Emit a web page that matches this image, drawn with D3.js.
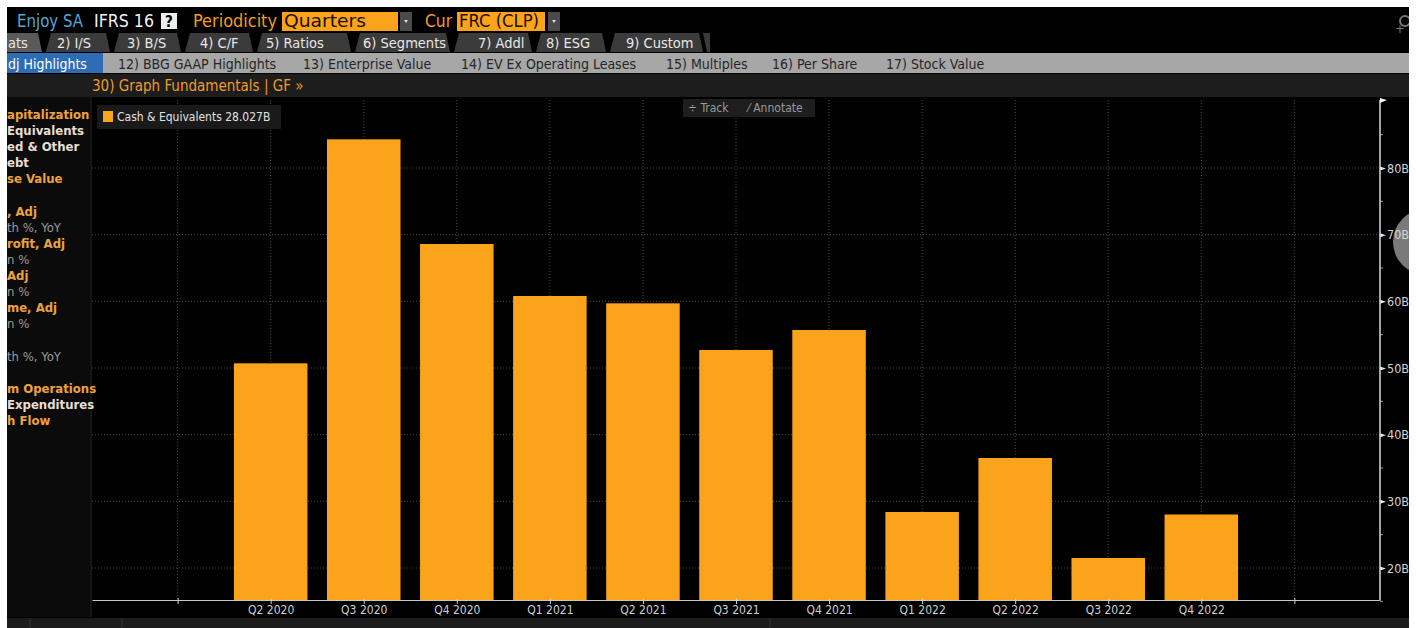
<!DOCTYPE html>
<html>
<head>
<meta charset="utf-8">
<script src="https://cdn.jsdelivr.net/npm/d3@7"></script>
<style>
  body { margin: 0; background: #fff; }
  svg { display: block; font-family: "DejaVu Sans Condensed", "Liberation Sans Narrow", sans-serif; }
</style>
</head>
<body>
<svg id="chart"></svg>
<script>
// data
const quarters = ["Q2 2020", "Q3 2020", "Q4 2020", "Q1 2021", "Q2 2021", "Q3 2021",
    "Q4 2021", "Q1 2022", "Q2 2022", "Q3 2022", "Q4 2022"];
const cashValues = [50.7, 84.3, 68.6, 60.8, 59.7, 52.7, 55.7, 28.4, 36.5, 21.5, 28.027];
const axisQuarters = ["Q1 2020", ...quarters, "Q1 2023"];
const yTicks = [20, 30, 40, 50, 60, 70, 80];
const yMinorTicks = [15, 25, 35, 45, 55, 65, 75, 85];
const seriesName = "Cash & Equivalents";
const lastValueLabel = "28.027B";

const mainTabs = ["ats", "2) I/S", "3) B/S", "4) C/F", "5) Ratios", "6) Segments", "7) Addl", "8) ESG", "9) Custom"];
const subTabs = ["dj Highlights", "12) BBG GAAP Highlights", "13) Enterprise Value", "14) EV Ex Operating Leases",
    "15) Multiples", "16) Per Share", "17) Stock Value"];
const menuItems = [
    ["apitalization", "key"], ["Equivalents", "plain"], ["ed & Other", "plain"], ["ebt", "plain"],
    ["se Value", "key"], ["", "plain"], [", Adj", "key"], ["th %, YoY", "sub"], ["rofit, Adj", "key"],
    ["n %", "sub"], ["Adj", "key"], ["n %", "sub"], ["me, Adj", "key"], ["n %", "sub"], ["", "plain"],
    ["th %, YoY", "sub"], ["", "plain"], ["m Operations", "key"], ["Expenditures", "plain"], ["h Flow", "key"]
];

const size = { width: 1416, height: 628 };
const plot = { left: 92, right: 1380, top: 100, bottom: 600 };
const orange = "#fba31b";
const menuColor = { key: "#eea23c", plain: "#e6dfd2", sub: "#9c9c9c" };

const svg = d3.select("#chart").attr("width", size.width).attr("height", size.height);

// screen frame
svg.append("rect").attr("x", 7).attr("y", 7).attr("width", 1402).attr("height", 613).attr("fill", "#000");

// ---- header bar ----
const header = svg.append("g").attr("font-size", 17);
const headText = (x, w, color, txt) => header.append("text").attr("x", x).attr("y", 27).attr("fill", color)
    .attr("textLength", w).attr("lengthAdjust", "spacingAndGlyphs").text(txt);
headText(17, 66, "#55a6d4", "Enjoy SA");
headText(94, 60, "#f2f2f2", "IFRS 16");
header.append("rect").attr("x", 161).attr("y", 13).attr("width", 16).attr("height", 16).attr("fill", "#eee");
header.append("text").attr("x", 169).attr("y", 27).attr("text-anchor", "middle").attr("fill", "#000")
    .attr("font-weight", "bold").attr("font-size", 15).text("?");
headText(193, 84, "#f39c1e", "Periodicity");
header.append("rect").attr("x", 282).attr("y", 12).attr("width", 116).attr("height", 19).attr("fill", orange);
headText(284, 82, "#1a1000", "Quarters");
headText(425, 27, "#f39c1e", "Cur");
header.append("rect").attr("x", 457).attr("y", 12).attr("width", 88).attr("height", 19).attr("fill", orange);
headText(459, 80, "#1a1000", "FRC (CLP)");
[400, 548].forEach(x => {
    header.append("rect").attr("x", x).attr("y", 12).attr("width", 12).attr("height", 19).attr("fill", "#4a4a4a");
    header.append("path").attr("d", `M${x + 4},${20} L${x + 8},${20} L${x + 6},${23} Z`).attr("fill", "#ddd");
});
// search icon top right
svg.append("circle").attr("cx", 1405).attr("cy", 21).attr("r", 5).attr("fill", "none").attr("stroke", "#777").attr("stroke-width", 2);
svg.append("text").attr("x", 1395).attr("y", 33).attr("fill", "#777").attr("font-size", 13).text("+");

// ---- main tabs ----
const tabEdges = [7, 46, 114, 185, 257, 355, 454, 536, 610, 707];
const tabTextX = [8, 57, 127, 200, 266, 363, 478, 546, 626];
const tabs = svg.append("g").attr("font-size", 14.5);
mainTabs.forEach((t, i) => {
    const x0 = tabEdges[i], x1 = tabEdges[i + 1] - 4;
    tabs.append("path")
        .attr("d", `M${x0},52 L${i === 0 ? x0 : x0 + 5},33 L${x1 - 4},33 L${x1},52 Z`)
        .attr("fill", i === 0 ? "#5a5a5a" : "#3b3b3b");
    tabs.append("text").attr("x", tabTextX[i]).attr("y", 48).attr("fill", "#e8e8e8").text(t);
});
tabs.append("path").attr("d", "M707,52 L703,33 L710,33 L710,52 Z").attr("fill", "#3b3b3b");

// ---- sub tabs ----
svg.append("rect").attr("x", 7).attr("y", 53).attr("width", 1402).attr("height", 20).attr("fill", "#a7a7a7");
svg.append("rect").attr("x", 7).attr("y", 53).attr("width", 96).attr("height", 20).attr("fill", "#2d6db5");
const subX = [8, 118, 303, 461, 666, 772, 886];
svg.append("g").attr("font-size", 14).selectAll("text").data(subTabs).join("text")
    .attr("x", (d, i) => subX[i]).attr("y", 69)
    .attr("fill", (d, i) => i === 0 ? "#fff" : "#262626")
    .text(d => d);

// ---- graph title row ----
svg.append("rect").attr("x", 7).attr("y", 74).attr("width", 1402).attr("height", 23).attr("fill", "#1d1d1d");
svg.append("text").attr("x", 92).attr("y", 91).attr("fill", "#ef9a2a").attr("font-size", 15)
    .text("30) Graph Fundamentals | GF »");

// ---- left menu ----
svg.append("rect").attr("x", 7).attr("y", 97).attr("width", 83).attr("height", 520).attr("fill", "#0b0b0b");
svg.append("line").attr("x1", 91).attr("x2", 91).attr("y1", 97).attr("y2", 617).attr("stroke", "#2a2a2a");
svg.append("g").attr("font-size", 13).selectAll("text").data(menuItems).join("text")
    .attr("x", 7).attr("y", (d, i) => 119 + i * 16.1)
    .attr("fill", d => menuColor[d[1]])
    .attr("font-weight", d => d[1] === "sub" ? "normal" : "bold")
    .text(d => d[0]);

// ---- chart ----
const x = d3.scalePoint().domain(axisQuarters).range([plot.left, plot.right]).padding(0.92);
const y = d3.scaleLinear().domain([15.2, 90.2]).range([plot.bottom, plot.top]);
const barWidth = x.step() * 0.79;

const grid = svg.append("g").attr("stroke", "#4a4a4a").attr("stroke-dasharray", "1,2");
grid.selectAll(".v").data(axisQuarters).join("line")
    .attr("x1", d => x(d)).attr("x2", d => x(d)).attr("y1", plot.top).attr("y2", plot.bottom);
grid.selectAll(".h").data(yTicks).join("line")
    .attr("x1", plot.left).attr("x2", plot.right).attr("y1", d => y(d)).attr("y2", d => y(d));

svg.append("g").selectAll("rect").data(quarters).join("rect")
    .attr("x", d => x(d) - barWidth / 2)
    .attr("width", barWidth)
    .attr("y", (d, i) => y(cashValues[i]))
    .attr("height", (d, i) => plot.bottom - y(cashValues[i]))
    .attr("fill", orange);

// x axis
const xAxis = d3.axisBottom(x).tickSize(4).tickSizeOuter(0)
    .tickFormat(d => quarters.includes(d) ? d : "");
const gx = svg.append("g").attr("transform", `translate(0,${plot.bottom})`).call(xAxis);
gx.select(".domain").attr("stroke", "#c8c8c8");
gx.selectAll(".tick line").attr("stroke", "#d0d0d0").attr("y1", -2).attr("y2", 4);
gx.selectAll(".tick text").attr("fill", "#cfcfcf").attr("font-size", 12).attr("y", 3).attr("dy", "0.9em")
    .attr("font-family", "DejaVu Sans Condensed, sans-serif");

// grey widget on right edge (behind the axis labels)
svg.append("circle").attr("cx", 1426).attr("cy", 242).attr("r", 33).attr("fill", "#7a7a7a");

// right y axis
const yAxis = d3.axisRight(y).tickValues(yTicks).tickSize(0).tickPadding(7).tickFormat(d => d + "B");
const gy = svg.append("g").attr("transform", `translate(${plot.right},0)`).call(yAxis);
gy.select(".domain").remove();
gy.selectAll(".tick text").attr("fill", "#d4d4d4").attr("font-size", 12.5)
    .attr("font-family", "DejaVu Sans Condensed, sans-serif");
gy.selectAll(".tick").append("path").attr("d", "M0,-2 L6,0 L0,2 Z").attr("fill", "#e8e8e8");
svg.append("g").selectAll("line").data(yMinorTicks).join("line")
    .attr("x1", plot.right).attr("x2", plot.right + 3)
    .attr("y1", d => y(d)).attr("y2", d => y(d)).attr("stroke", "#9a9a9a");
svg.append("line").attr("x1", plot.right).attr("x2", plot.right).attr("y1", plot.top).attr("y2", plot.bottom)
    .attr("stroke", "#d8d8d8").attr("stroke-width", 1.5);
svg.append("path").attr("d", `M${plot.right},${plot.top - 2} L${plot.right + 7},${plot.top} L${plot.right},${plot.top + 3} Z`)
    .attr("fill", "#f0f0f0");

// legend
svg.append("rect").attr("x", 97).attr("y", 105).attr("width", 184).attr("height", 24).attr("fill", "#1a1a1a");
svg.append("rect").attr("x", 103).attr("y", 111).attr("width", 10).attr("height", 11).attr("fill", orange);
svg.append("text").attr("x", 117).attr("y", 121).attr("fill", "#e2e2e2").attr("font-size", 12)
    .text(`${seriesName} ${lastValueLabel}`);

// track / annotate
svg.append("rect").attr("x", 683).attr("y", 99).attr("width", 132).attr("height", 18).attr("fill", "#1e1e1e");
svg.append("text").attr("x", 688).attr("y", 112).attr("fill", "#9a9a9a").attr("font-size", 12).text("÷ Track");
svg.append("text").attr("x", 748).attr("y", 112).attr("fill", "#9a9a9a").attr("font-size", 12).text("⁄ Annotate");

// bottom strip
svg.append("rect").attr("x", 7).attr("y", 618).attr("width", 1402).attr("height", 10).attr("fill", "#1c1c1c");
[30, 122, 770].forEach(sx => svg.append("line").attr("x1", sx).attr("x2", sx).attr("y1", 618).attr("y2", 628)
    .attr("stroke", "#333"));

// white frame around the screen
svg.append("rect").attr("x", 1409).attr("y", 0).attr("width", 7).attr("height", size.height).attr("fill", "#fff");
svg.append("rect").attr("x", 0).attr("y", 0).attr("width", 7).attr("height", size.height).attr("fill", "#fff");
svg.append("rect").attr("x", 0).attr("y", 0).attr("width", size.width).attr("height", 7).attr("fill", "#fff");
</script>
</body>
</html>
